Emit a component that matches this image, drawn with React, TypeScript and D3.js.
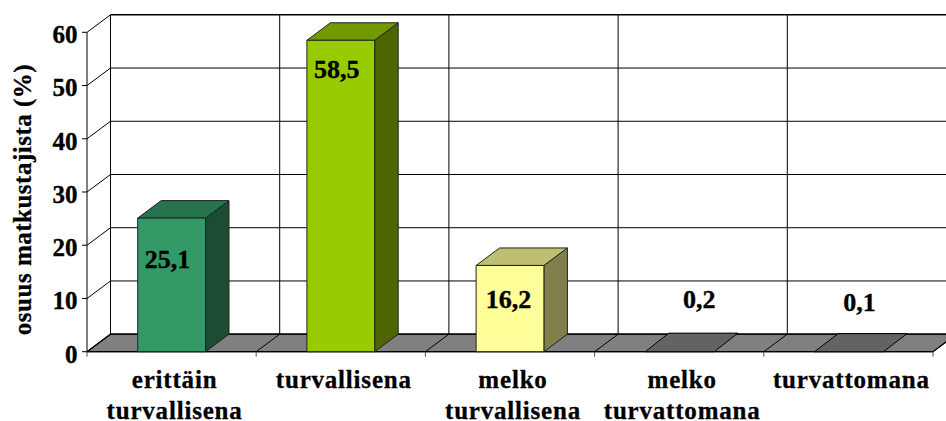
import React from "react";
import * as d3 from "d3";

// Kokemus matkustamisen turvallisuudesta, osuus matkustajista (%)
const categories = [
  ["erittäin", "turvallisena"],
  ["turvallisena"],
  ["melko", "turvallisena"],
  ["melko", "turvattomana"],
  ["turvattomana"],
];
const values = [25.1, 58.5, 16.2, 0.2, 0.1];
const yTicks = [0, 10, 20, 30, 40, 50, 60];
const axisTitle = "osuus matkustajista (%)";

const frontColors = ["#339966", "#99CC00", "#FFFF99", "#808080", "#808080"];

const WIDTH = 946;
const HEIGHT = 421;
const FONT = "'Liberation Serif', 'Times New Roman', serif";
const DX = 23.5;
const DY = -17.5;

const y = d3.scaleLinear().domain([0, 60]).range([351.7, 32.3]);
const x = d3
  .scaleBand<number>()
  .domain(d3.range(categories.length))
  .range([87, 933])
  .paddingInner(0)
  .paddingOuter(0);

const poly = (pts: [number, number][]) => pts.map((p) => p.join(",")).join(" ");

function shade(color: string, k: number) {
  const c = d3.rgb(color);
  return d3.rgb(c.r * k, c.g * k, c.b * k).formatHex();
}

const labelText = d3.format(".1f");

// Arvomerkintöjen sijainti palkin keskeltä ja yläreunasta
const labelOffsets: [number, number][] = [
  [-4, 49.5],
  [-4, 38],
  [-1.5, 42.7],
  [20, -43],
  [11, -40.5],
];

export default function App() {
  const y0 = y(0);
  const band = x.bandwidth();
  const xLeft = x(0)!;
  const xRight = xLeft + band * categories.length;
  const barW = 67.8;
  const slantW = 69;

  return (
    <svg
      width={WIDTH}
      height={HEIGHT}
      viewBox={`0 0 ${WIDTH} ${HEIGHT}`}
      style={{ position: "absolute", left: 0, top: 0, background: "#fff" }}
      fontFamily={FONT}
      fontWeight="bold"
    >
      {/* lattia */}
      <polygon
        points={poly([
          [xLeft, y0],
          [xLeft + DX, y0 + DY],
          [xRight + DX, y0 + DY],
          [xRight, y0],
        ])}
        fill="#808080"
        stroke="#000"
        strokeWidth={1.2}
      />

      {/* takaseinän vaakaviivat ja sivuseinän vinoviivat */}
      {yTicks.map((t) => (
        <g key={t}>
          {t > 0 && (
            <line
              x1={xLeft + DX}
              x2={WIDTH}
              y1={y(t) + DY}
              y2={y(t) + DY}
              stroke="#000"
              strokeWidth={t === 60 ? 1.5 : 1}
            />
          )}
          <line x1={xLeft} y1={y(t)} x2={xLeft + DX} y2={y(t) + DY} stroke="#000" strokeWidth={1} />
          <line x1={xLeft - 5} x2={xLeft} y1={y(t)} y2={y(t)} stroke="#000" strokeWidth={1} />
          <text
            x={77.5}
            y={y(t) + 10.8}
            fontSize={25}
            textAnchor="end"
            fill="#000"
            stroke="#000"
            strokeWidth={0.35}
          >
            {t}
          </text>
        </g>
      ))}

      {/* pystyviivat */}
      <line x1={xLeft} x2={xLeft} y1={y(60)} y2={y0} stroke="#000" />
      {d3.range(categories.length).map((i) => (
        <line
          key={i}
          x1={x(i)! + DX}
          x2={x(i)! + DX}
          y1={y(60) + DY}
          y2={y0 + DY}
          stroke="#000"
          strokeWidth={1}
        />
      ))}

      {/* lattian jakoviivat ja x-akselin merkit */}
      {d3.range(categories.length + 1).map((i) => {
        const px = xLeft + band * i;
        return (
          <g key={i}>
            <line x1={px} y1={y0} x2={px + DX} y2={y0 + DY} stroke="#000" strokeWidth={1} />
            <line x1={px} x2={px} y1={y0} y2={y0 + 5} stroke="#555" strokeWidth={1} />
          </g>
        );
      })}
      <line x1={xLeft} x2={xRight} y1={y0} y2={y0} stroke="#000" strokeWidth={1.2} />
      <line x1={xLeft + DX} x2={WIDTH} y1={y0 + DY} y2={y0 + DY} stroke="#000" strokeWidth={1.2} />

      {/* palkit */}
      {values.map((v, i) => {
        const w = v < 1 ? slantW : barW;
        const bx = x(i)! + (band - barW) / 2;
        const top = y(v);
        const color = frontColors[i];
        if (v < 1) {
          return (
            <polygon
              key={i}
              points={poly([
                [bx, y0],
                [bx + w, y0],
                [bx + w + DX, top + DY],
                [bx + DX, top + DY],
              ])}
              fill="#636363"
              stroke="#000"
              strokeWidth={1}
            />
          );
        }
        return (
          <g key={i} stroke="#222" strokeWidth={1} strokeLinejoin="round">
            <polygon
              points={poly([
                [bx + w, y0],
                [bx + w + DX, y0 + DY],
                [bx + w + DX, top + DY],
                [bx + w, top],
              ])}
              fill={shade(color, 0.5)}
            />
            <polygon
              points={poly([
                [bx, top],
                [bx + DX, top + DY],
                [bx + w + DX, top + DY],
                [bx + w, top],
              ])}
              fill={shade(color, 0.75)}
            />
            <rect x={bx} y={top} width={w} height={y0 - top} fill={color} />
          </g>
        );
      })}

      {/* arvomerkinnät */}
      {values.map((v, i) => (
        <text
          key={i}
          x={x(i)! + band / 2 + labelOffsets[i][0]}
          y={y(v) + labelOffsets[i][1]}
          fontSize={26}
          textAnchor="middle"
          fill="#000"
          stroke="#000"
          strokeWidth={0.35}
        >
          {labelText(v).replace(".", ",")}
        </text>
      ))}

      {/* luokkien nimet */}
      {categories.map((lines, i) => (
        <text
          key={i}
          fontSize={25}
          textAnchor="middle"
          fill="#000"
          stroke="#000"
          strokeWidth={0.3}
          letterSpacing={0.8}
        >
          {lines.map((l, j) => (
            <tspan key={j} x={x(i)! + band / 2 + 3} y={387.5 + j * 31.5}>
              {l}
            </tspan>
          ))}
        </text>
      ))}

      {/* y-akselin otsikko */}
      <text
        transform="translate(31,199.5) rotate(-90)"
        fontSize={25}
        textAnchor="middle"
        fill="#000"
        stroke="#000"
        strokeWidth={0.3}
        letterSpacing={0.5}
      >
        {axisTitle}
      </text>
    </svg>
  );
}
